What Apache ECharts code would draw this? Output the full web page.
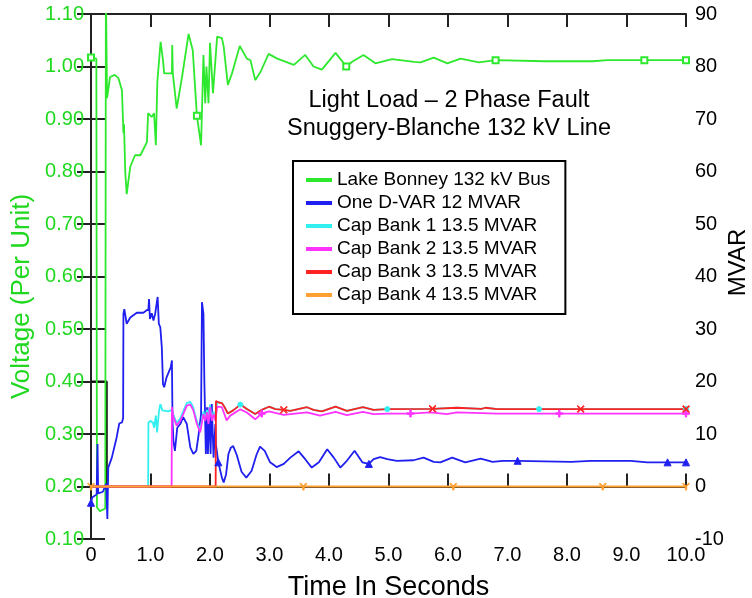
<!DOCTYPE html>
<html>
<head>
<meta charset="utf-8">
<script src="https://cdn.jsdelivr.net/npm/echarts@6/dist/echarts.min.js"></script>
<style>
html, body { margin: 0; padding: 0; background: #fff; }
#chart { width: 752px; height: 598px; }
</style>
</head>
<body>
<div id="chart"></div>
<script>
// 时间刻度标签
var timeTicks = [0, 1, 2, 3, 4, 5, 6, 7, 8, 9, 10];

// Lake Bonney 132 kV Bus, 电压 (p.u.)
var lakeBonney = [
	[0, 1.017], [0.09, 1.015], [0.10, 0.16], [0.15, 0.153], [0.24, 0.158], [0.25, 1.15],
	[0.27, 0.94], [0.32, 0.98], [0.40, 0.984], [0.46, 0.978], [0.52, 0.955], [0.545, 0.873],
	[0.555, 0.89], [0.575, 0.80], [0.60, 0.757], [0.66, 0.809], [0.74, 0.831], [0.83, 0.831],
	[0.94, 0.856], [0.96, 0.911], [1.02, 0.904], [1.06, 0.911], [1.09, 0.85], [1.115, 0.971],
	[1.17, 1.047], [1.21, 1.012], [1.23, 0.987], [1.36, 0.987], [1.365, 1.041], [1.375, 0.987],
	[1.44, 0.92], [1.53, 0.98], [1.64, 1.062], [1.71, 1.031], [1.78, 0.906], [1.85, 0.85],
	[1.89, 1.022], [1.92, 0.93], [1.94, 1.0], [1.975, 0.93], [2.0, 1.045], [2.05, 0.949],
	[2.12, 1.057], [2.20, 1.054], [2.23, 1.038], [2.30, 0.965], [2.37, 0.987], [2.50, 1.039],
	[2.62, 1.015], [2.68, 1.012], [2.76, 0.974], [2.85, 0.99], [2.985, 1.024], [3.13, 1.015],
	[3.41, 1.003], [3.60, 1.022], [3.74, 1.0], [3.88, 0.994], [4.11, 1.026], [4.25, 1.006],
	[4.29, 1.0], [4.39, 1.009], [4.58, 1.022], [4.78, 1.006], [5.06, 1.014], [5.43, 1.009],
	[5.54, 1.008], [5.76, 1.017], [5.99, 1.006], [6.21, 1.015], [6.52, 1.008], [6.80, 1.012],
	[7.61, 1.010], [8.43, 1.010], [8.68, 1.012], [9.30, 1.012], [10, 1.012]
];
var lakeBonneyMarks = [0, 1.78, 4.29, 6.80, 9.30, 10];

// One D-VAR 12 MVAR
var dvar = [
	[0, -3.1], [0.02, -2.1], [0.095, -1.5], [0.11, 8.1], [0.12, -1.3], [0.2, -1.0], [0.255, 0.5],
	[0.275, -6.2], [0.29, 3.6], [0.35, 5.5], [0.43, 9.3], [0.475, 12.0], [0.52, 12.2], [0.54, 13],
	[0.545, 32.9], [0.56, 33.8], [0.60, 31.0], [0.66, 32.2], [0.77, 33.1], [0.88, 33.1], [0.965, 33.8],
	[0.975, 35.7], [0.99, 31.9], [1.02, 33.0], [1.05, 31.6], [1.08, 33.0], [1.12, 36.1], [1.14, 31.0],
	[1.165, 30.3], [1.19, 26.5], [1.21, 19.5], [1.23, 18.9], [1.27, 20.8], [1.34, 22.7], [1.36, 24.0],
	[1.37, 12.5], [1.385, 8.7], [1.41, 6.8], [1.45, 11.2], [1.50, 11.9], [1.55, 13.2], [1.61, 11.9],
	[1.67, 7.4], [1.72, 6.2], [1.77, 6.8], [1.81, 10.0], [1.85, 13.8], [1.865, 35.1], [1.89, 32.9],
	[1.905, 20.2], [1.93, 6.2], [1.95, 15.1], [1.965, 6.2], [1.99, 15.1], [2.01, 6.2], [2.03, 15.7],
	[2.06, 5.5], [2.09, 11.9], [2.10, 8], [2.14, 4.6], [2.20, 1.7], [2.23, 0.75], [2.27, 2.3],
	[2.31, 6.2], [2.35, 7.4], [2.39, 7.7], [2.45, 6.0], [2.53, 2.8], [2.61, 1.7], [2.70, 3.0],
	[2.78, 6.0], [2.84, 7.6], [2.92, 6.8], [3.01, 4.6], [3.12, 3.7], [3.24, 4.3], [3.35, 5.5],
	[3.49, 6.7], [3.60, 5.2], [3.71, 3.6], [3.83, 4.6], [3.97, 7.1], [4.08, 5.5], [4.19, 3.6],
	[4.30, 4.9], [4.43, 6.8], [4.56, 4.6], [4.67, 4.3], [4.75, 5.2], [4.86, 5.6], [4.98, 5.2],
	[5.14, 4.9], [5.42, 5.0], [5.59, 5.5], [5.76, 4.7], [5.87, 4.6], [6.07, 5.5], [6.29, 4.6],
	[6.55, 5.3], [6.75, 4.7], [6.92, 4.9], [7.17, 4.9], [8.07, 4.7], [8.40, 4.9], [9.07, 4.9],
	[9.35, 4.6], [9.69, 4.6], [10, 4.6]
];
var dvarMarks = [0, 2.14, 4.67, 7.17, 9.69, 10];

// Cap Bank 1 13.5 MVAR
var capBank1 = [
	[0, 0], [0.96, 0], [0.965, 12.2], [1.0, 12.5], [1.04, 12.2], [1.06, 11.2], [1.09, 13.5],
	[1.11, 10.3], [1.14, 14.1], [1.165, 15.7], [1.2, 14.5], [1.3, 14.3], [1.36, 14.6], [1.385, 13.7],
	[1.44, 12.1], [1.5, 13.0], [1.55, 14.3], [1.61, 15.9], [1.67, 16.1], [1.72, 15.0], [1.78, 12.4],
	[1.835, 10.8], [1.89, 14.3], [1.92, 13.0], [1.95, 14.6], [1.975, 12.4], [2.0, 15.6], [2.03, 13.0],
	[2.06, 14.3], [2.09, 13.0], [2.12, 16.1], [2.2, 15.9], [2.24, 15.2], [2.3, 13.9], [2.39, 14.5],
	[2.51, 15.6], [2.62, 14.75], [2.76, 13.8], [2.87, 14.6], [2.99, 15.2], [3.1, 14.75], [3.24, 14.6],
	[3.35, 14.4], [3.63, 15.1], [3.74, 14.6], [3.88, 14.3], [4.11, 15.2], [4.3, 14.4], [4.57, 15.1],
	[4.75, 14.6], [4.98, 14.75], [5.74, 14.8], [6.15, 15.0], [6.56, 14.8], [6.63, 15.0], [6.83, 14.75],
	[7.53, 14.75], [10, 14.75]
];
var capBank1Marks = [2.51, 4.98, 7.53, 10];

// Cap Bank 2 13.5 MVAR
var capBank2 = [
	[0, 0], [1.355, 0], [1.36, 15.1], [1.385, 13.2], [1.44, 11.6], [1.50, 12.5], [1.55, 13.8],
	[1.61, 15.4], [1.67, 15.6], [1.72, 14.5], [1.78, 11.9], [1.835, 10.3], [1.89, 13.8], [1.92, 12.5],
	[1.95, 14.1], [1.975, 11.9], [2.0, 15.1], [2.03, 12.5], [2.06, 13.8], [2.09, 12.5], [2.12, 15.2],
	[2.20, 15.1], [2.28, 12.6], [2.34, 13.5], [2.51, 14.7], [2.62, 14.1], [2.76, 12.8], [2.87, 13.9],
	[2.99, 14.3], [3.24, 13.65], [3.35, 13.8], [3.63, 14.1], [3.85, 13.5], [4.11, 14.2], [4.30, 13.6],
	[4.57, 14.2], [4.75, 13.8], [4.98, 13.9], [5.37, 13.9], [5.71, 14.1], [5.98, 13.8], [6.15, 14.1],
	[6.83, 13.9], [7.87, 13.9], [10, 13.9]
];
var capBank2Marks = [2.87, 5.37, 7.87, 10];

// Cap Bank 3 13.5 MVAR
var capBank3 = [
	[0, 0], [2.095, 0], [2.10, 16.3], [2.15, 16.0], [2.20, 15.9], [2.24, 15.2], [2.30, 13.9],
	[2.39, 14.5], [2.51, 15.6], [2.62, 14.75], [2.76, 13.8], [2.87, 14.6], [2.99, 15.2], [3.10, 14.75],
	[3.24, 14.6], [3.35, 14.4], [3.63, 15.1], [3.74, 14.6], [3.88, 14.3], [4.11, 15.2], [4.30, 14.4],
	[4.57, 15.1], [4.75, 14.6], [4.98, 14.75], [5.74, 14.8], [6.15, 15.0], [6.56, 14.8], [6.63, 15.0],
	[6.83, 14.75], [8.23, 14.75], [10, 14.75]
];
var capBank3Marks = [3.24, 5.74, 8.23, 10];

// Cap Bank 4 13.5 MVAR
var capBank4 = [[0, 0], [1.1, 0], [3.57, 0], [6.09, 0], [8.6, 0], [10, 0]];
var capBank4Marks = [0, 3.57, 6.09, 8.6, 10];

// 故障切除
var faultTrace = [[0, 20], [0.265, 20], [0.265, 0]];

var FONT = 'Liberation Sans, Arial, sans-serif';

function mk(times, size) {
	return function (val) { return times.indexOf(val[0]) >= 0 ? size : 0; };
}

function line(name, data, color, marks, symbol, size, yIdx) {
	return {
		name: name,
		type: 'line',
		yAxisIndex: yIdx,
		data: data,
		showSymbol: true,
		showAllSymbol: true,
		symbol: symbol,
		symbolSize: mk(marks, size),
		lineStyle: { color: color, width: 1.8 },
		itemStyle: { color: color, borderColor: color },
		emphasis: { disabled: true }
	};
}

var myChart = echarts.init(document.getElementById('chart'));

var option = {
	animation: false,
	textStyle: { fontFamily: FONT },
	grid: { left: 91, right: 66, top: 14, bottom: 59, outerBoundsMode: 'none', containLabel: false },
	legend: {
		left: 293,
		top: 161,
		orient: 'vertical',
		backgroundColor: '#fff',
		borderColor: '#000',
		borderWidth: 2,
		borderRadius: 0,
		padding: [9, 15, 9, 13],
		itemWidth: 26,
		itemHeight: 4,
		itemGap: 3,
		icon: 'rect',
		textStyle: { fontSize: 19, lineHeight: 20, color: '#000', fontFamily: FONT },
		data: ['Lake Bonney 132 kV Bus', 'One D-VAR 12 MVAR', 'Cap Bank 1 13.5 MVAR',
			'Cap Bank 2 13.5 MVAR', 'Cap Bank 3 13.5 MVAR', 'Cap Bank 4 13.5 MVAR']
	},
	graphic: [{
		type: 'text',
		x: 449,
		y: 87,
		style: {
			text: 'Light Load \u2013 2 Phase Fault\nSnuggery-Blanche 132 kV Line',
			textAlign: 'center',
			fontSize: 23.5,
			lineHeight: 28,
			fontFamily: FONT,
			fill: '#000'
		}
	}],
	xAxis: [{
		type: 'value',
		min: 0, max: 10, interval: 1,
		name: 'Time In Seconds',
		nameLocation: 'middle',
		nameGap: 35,
		nameTextStyle: { fontSize: 27, color: '#000' },
		axisLine: { lineStyle: { color: '#222', width: 2 } },
		axisTick: { inside: true, length: 13, lineStyle: { color: '#222', width: 2 } },
		axisLabel: {
			fontSize: 20, color: '#000', margin: 6,
			formatter: function (v) { return v === 0 ? '0' : v.toFixed(1); }
		},
		splitLine: { show: false }
	}, {
		type: 'value',
		position: 'top',
		min: 0, max: 10, interval: 1,
		axisLine: { lineStyle: { color: '#222', width: 2 } },
		axisTick: { inside: true, length: 13, lineStyle: { color: '#222', width: 2 } },
		axisLabel: { show: false },
		splitLine: { show: false }
	}],
	yAxis: [{
		type: 'value',
		min: 0.1, max: 1.1, interval: 0.1,
		name: 'Voltage (Per Unit)',
		nameLocation: 'middle',
		nameGap: 56,
		nameMoveOverlap: false,
		nameTextStyle: { fontSize: 26, color: '#1fd81f', padding: [0, 40, 0, 0] },
		axisLine: { show: true, lineStyle: { color: '#222', width: 2 } },
		axisTick: { inside: true, length: 14, lineStyle: { color: '#222', width: 2 } },
		axisLabel: {
			fontSize: 20, color: '#1fd81f', margin: 7,
			formatter: function (v) { return v.toFixed(2); }
		},
		splitLine: { show: false }
	}, {
		type: 'value',
		position: 'right',
		min: -10, max: 90, interval: 10,
		name: 'MVAR',
		nameLocation: 'middle',
		nameGap: 40,
		nameMoveOverlap: false,
		nameTextStyle: { fontSize: 24, color: '#000', padding: [0, 0, 0, 28] },
		axisLine: { show: true, lineStyle: { color: '#222', width: 2 } },
		axisTick: { inside: true, length: 14, lineStyle: { color: '#222', width: 2 } },
		axisLabel: { fontSize: 20, color: '#000', margin: 9 },
		splitLine: { show: false }
	}],
	series: [
		{
			type: 'line', yAxisIndex: 1, data: faultTrace, showSymbol: false,
			lineStyle: { color: '#111', width: 2 }, emphasis: { disabled: true }
		},
		line('Lake Bonney 132 kV Bus', lakeBonney, '#2ee82e', lakeBonneyMarks, 'emptyRect', 6, 0),
		line('One D-VAR 12 MVAR', dvar, '#1f1ff0', dvarMarks, 'triangle', 7, 1),
		line('Cap Bank 1 13.5 MVAR', capBank1, '#33f0f0', capBank1Marks, 'circle', 5, 1),
		line('Cap Bank 2 13.5 MVAR', capBank2, '#ff33ff', capBank2Marks,
			'path://M4,0H6V4H10V6H6V10H4V6H0V4H4Z', 7, 1),
		line('Cap Bank 3 13.5 MVAR', capBank3, '#ff2222', capBank3Marks,
			'path://M0,1L1,0L5,4L9,0L10,1L6,5L10,9L9,10L5,6L1,10L0,9L4,5Z', 7, 1),
		line('Cap Bank 4 13.5 MVAR', capBank4, '#ffa033', capBank4Marks,
			'path://M0,1L1,0L5,4L9,0L10,1L6,5V10H4V5Z', 7, 1)
	]
};
myChart.setOption(option);
</script>
</body>
</html>
